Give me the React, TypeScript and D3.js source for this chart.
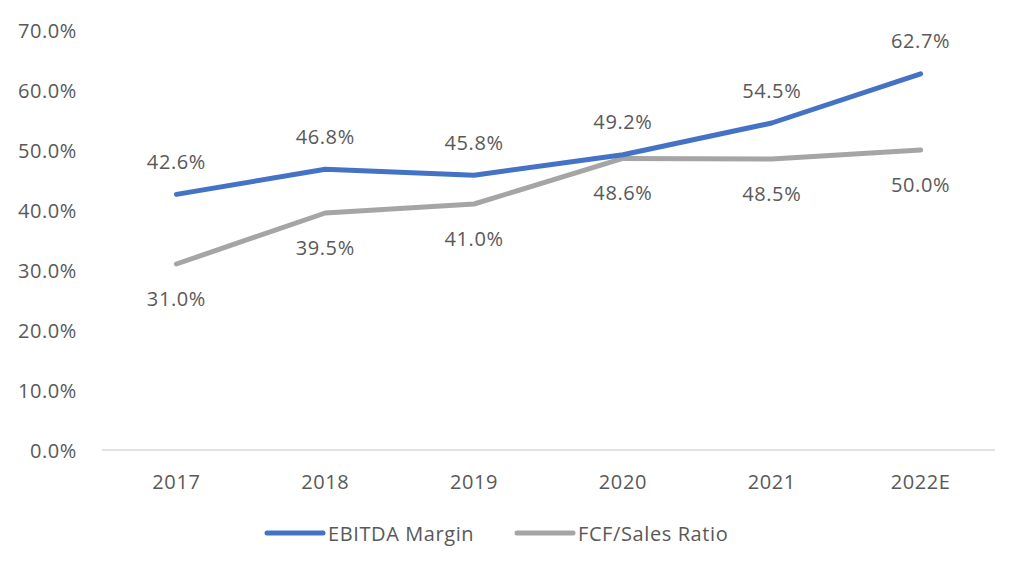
import React from "react";
import * as d3 from "d3";

const categories = ["2017", "2018", "2019", "2020", "2021", "2022E"];
const ebitda = [42.6, 46.8, 45.8, 49.2, 54.5, 62.7];
const fcf = [31.0, 39.5, 41.0, 48.6, 48.5, 50.0];
const yTicks = [0, 10, 20, 30, 40, 50, 60, 70];
const seriesNames = ["EBITDA Margin", "FCF/Sales Ratio"];
const colors = ["#4472C4", "#A5A5A5"];

const W = 1024;
const H = 568;
const font = "'Open Sans', sans-serif";
const textColor = "#595959";
const fs = 20;
const ls = 0.6;

export default function App() {
  const x = d3.scaleBand<string>().domain(categories).range([102, 995]);
  const y = d3.scaleLinear().domain([0, 70]).range([450, 30]);
  const cx = (c: string) => (x(c) as number) + x.bandwidth() / 2;
  const line = d3
    .line<number>()
    .x((_, i) => cx(categories[i]))
    .y((d) => y(d));

  const tProps = {
    dominantBaseline: "central" as const,
    fontFamily: font,
    fontSize: fs,
    fill: textColor,
    letterSpacing: ls,
  };

  return (
    <svg width={W} height={H} style={{ position: "absolute", left: 0, top: 0, background: "#fff" }}>
      <rect x={0} y={0} width={W} height={H} fill="#fff" />
      {yTicks.map((t) => (
        <text key={t} x={77} y={y(t)} textAnchor="end" {...tProps}>
          {t.toFixed(1)}%
        </text>
      ))}
      <line x1={102} x2={995} y1={y(0)} y2={y(0)} stroke="#D9D9D9" strokeWidth={1.5} />
      {categories.map((c) => (
        <text key={c} x={cx(c)} y={481} textAnchor="middle" {...tProps}>
          {c}
        </text>
      ))}
      <path d={line(fcf) || ""} fill="none" stroke={colors[1]} strokeWidth={5} strokeLinecap="round" strokeLinejoin="round" />
      <path d={line(ebitda) || ""} fill="none" stroke={colors[0]} strokeWidth={5} strokeLinecap="round" strokeLinejoin="round" />
      {ebitda.map((v, i) => (
        <text key={"e" + i} x={cx(categories[i])} y={y(v) - 33} textAnchor="middle" {...tProps}>
          {v.toFixed(1)}%
        </text>
      ))}
      {fcf.map((v, i) => (
        <text key={"f" + i} x={cx(categories[i])} y={y(v) + 34} textAnchor="middle" {...tProps}>
          {v.toFixed(1)}%
        </text>
      ))}
      {seriesNames.map((n, i) => {
        const lx = 267 + i * 250;
        return (
          <g key={n}>
            <line x1={lx} x2={lx + 56} y1={533} y2={533} stroke={colors[i]} strokeWidth={5} strokeLinecap="round" />
            <text x={lx + 61} y={533} {...tProps}>
              {n}
            </text>
          </g>
        );
      })}
    </svg>
  );
}
